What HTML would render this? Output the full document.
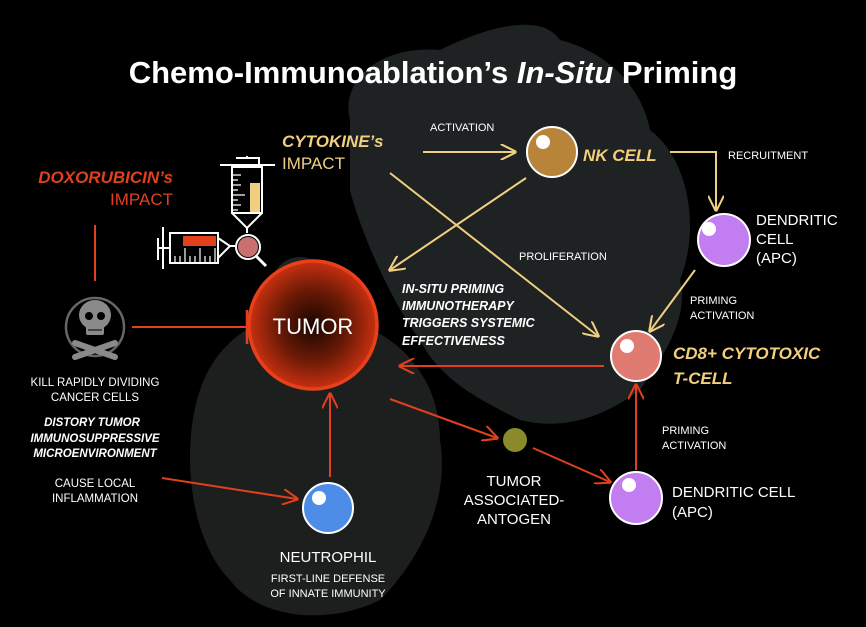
<!DOCTYPE html>
<html><head><meta charset="utf-8"><style>
html,body{margin:0;padding:0;background:#000;}
body{width:866px;height:622px;overflow:hidden;}
svg text{font-family:"Liberation Sans",sans-serif;}
</style></head><body>
<svg width="866" height="622" viewBox="0 0 866 622" xmlns="http://www.w3.org/2000/svg">
<defs>
<radialGradient id="tg" cx="50%" cy="50%" r="50%">
<stop offset="0" stop-color="#1a0500"/><stop offset="0.55" stop-color="#6a1a06"/><stop offset="1" stop-color="#c83010"/>
</radialGradient>
<marker id="ag2" viewBox="0 0 10 10" refX="9" refY="5" markerWidth="16" markerHeight="16" markerUnits="userSpaceOnUse" orient="auto"><path d="M0,0 L10,5 L0,10" fill="none" stroke="#f0cf80" stroke-width="1.3"/></marker>
<marker id="ar" viewBox="0 0 10 10" refX="9" refY="5" markerWidth="16" markerHeight="16" markerUnits="userSpaceOnUse" orient="auto"><path d="M0,0 L10,5 L0,10" fill="none" stroke="#e0401c" stroke-width="1.3"/></marker>
</defs>
<!-- background blobs -->
<path d="M350,120 C340,80 380,45 440,50 C480,30 540,10 560,40 C600,50 640,80 650,130 C690,160 700,230 680,280 C690,320 660,360 640,390 C600,420 560,430 520,420 C480,400 440,380 420,340 C390,300 360,230 350,190 Z" fill="#1f2222"/>
<path d="M200,390 C220,330 280,300 340,320 C400,330 440,380 440,440 C450,500 420,560 380,600 C330,625 260,620 230,580 C190,540 180,450 200,390 Z" fill="#1d1f1f"/>
<circle cx="300" cy="285" r="28" fill="#1f2222"/>
<!-- title -->
<text x="433" y="83" text-anchor="middle" fill="#fff" font-size="31" font-weight="bold">Chemo-Immunoablation’s <tspan font-style="italic">In-Situ</tspan> Priming</text>
<!-- doxorubicin -->
<text x="173" y="183" text-anchor="end" fill="#e0401c" font-size="17" font-weight="bold" font-style="italic">DOXORUBICIN’s</text>
<text x="173" y="205" text-anchor="end" fill="#e0401c" font-size="17">IMPACT</text>
<line x1="95" y1="225" x2="95" y2="281" stroke="#e0401c" stroke-width="2"/>
<!-- skull -->
<circle cx="95" cy="327" r="29" fill="none" stroke="#666" stroke-width="2.5"/>
<g stroke="#8a8a8a" stroke-width="6" stroke-linecap="round"><line x1="75" y1="343" x2="115" y2="357"/><line x1="115" y1="343" x2="75" y2="357"/></g>
<ellipse cx="95" cy="315" rx="16" ry="15" fill="#8a8a8a"/><rect x="86" y="322" width="18" height="13" rx="2" fill="#8a8a8a"/>
<circle cx="89" cy="316" r="4" fill="#000"/><circle cx="101" cy="316" r="4" fill="#000"/>
<path d="M88,330 h14" stroke="#000" stroke-width="1"/>
<line x1="132" y1="327" x2="247" y2="327" stroke="#e0401c" stroke-width="2"/>
<line x1="247" y1="310" x2="247" y2="344" stroke="#e0401c" stroke-width="2.5"/>
<text x="95" y="386" text-anchor="middle" fill="#fff" font-size="11.5">KILL RAPIDLY DIVIDING</text>
<text x="95" y="401" text-anchor="middle" fill="#fff" font-size="11.5">CANCER CELLS</text>
<g fill="#fff" font-size="11.5" font-weight="bold" font-style="italic" text-anchor="middle">
<text x="92" y="426">DISTORY TUMOR</text>
<text x="95" y="442">IMMUNOSUPPRESSIVE</text>
<text x="95" y="457">MICROENVIRONMENT</text>
</g>
<text x="95" y="487" text-anchor="middle" fill="#fff" font-size="11.5">CAUSE LOCAL</text>
<text x="95" y="502" text-anchor="middle" fill="#fff" font-size="11.5">INFLAMMATION</text>
<!-- syringes -->
<g stroke="#fff" stroke-width="2" fill="none">
<path d="M220,165 h55 M236,158 h23 v7 M247,158 v-2"/>
<rect x="232" y="167" width="30" height="46"/>
<path d="M232,213 L247,228 L262,213 M247,228 v5"/>
<rect x="170" y="233" width="48" height="30"/>
<path d="M158,238 v22 M163,227 v42 M158,248 h12 M218,238 L230,246 L218,258 M230,246 h5"/>
<circle cx="248" cy="247" r="12"/><line x1="256" y1="256" x2="266" y2="266" stroke-width="3"/>
</g>
<rect x="250" y="183" width="10" height="29" fill="#f0cf80"/>
<rect x="183" y="236" width="33" height="10" fill="#e0401c"/>
<g stroke="#fff" stroke-width="1.2"><path d="M233,175h8M233,180h5M233,185h8M233,190h5M233,195h12M233,200h5M233,205h8M233,210h5"/>
<path d="M175,262v-6M180,262v-6M185,262v-14M190,262v-6M195,262v-6M200,262v-14M205,262v-6M210,262v-6M215,262v-14"/></g>
<circle cx="248" cy="247" r="10" fill="#c97070"/>
<!-- cytokine -->
<text x="282" y="147" fill="#f0cf80" font-size="17" font-weight="bold" font-style="italic">CYTOKINE’s</text>
<text x="282" y="169" fill="#f0cf80" font-size="17">IMPACT</text>
<text x="430" y="131" fill="#fff" font-size="11">ACTIVATION</text>
<line x1="423" y1="152" x2="515" y2="152" stroke="#f0cf80" stroke-width="2" marker-end="url(#ag2)"/>
<!-- NK -->
<circle cx="552" cy="152" r="25" fill="#b8843a" stroke="#fff" stroke-width="2"/>
<circle cx="543" cy="142" r="7" fill="#fff"/>
<text x="583" y="161" fill="#f2cf7a" font-size="17" font-weight="bold" font-style="italic">NK CELL</text>
<polyline points="670,152 716,152 716,210" fill="none" stroke="#f0cf80" stroke-width="2" marker-end="url(#ag2)"/>
<text x="728" y="159" fill="#fff" font-size="11">RECRUITMENT</text>
<!-- dendritic top -->
<circle cx="724" cy="240" r="26" fill="#c27df0" stroke="#fff" stroke-width="2"/>
<circle cx="709" cy="229" r="7" fill="#fff"/>
<text x="756" y="225" fill="#fff" font-size="15">DENDRITIC</text>
<text x="756" y="244" fill="#fff" font-size="15">CELL</text>
<text x="756" y="263" fill="#fff" font-size="15">(APC)</text>
<line x1="695" y1="270" x2="650" y2="331" stroke="#f0cf80" stroke-width="2" marker-end="url(#ag2)"/>
<text x="690" y="304" fill="#fff" font-size="11">PRIMING</text>
<text x="690" y="319" fill="#fff" font-size="11">ACTIVATION</text>
<!-- crossing arrows -->
<line x1="390" y1="173" x2="598" y2="336" stroke="#f0cf80" stroke-width="2" marker-end="url(#ag2)"/>
<line x1="526" y1="178" x2="390" y2="270" stroke="#f0cf80" stroke-width="2" marker-end="url(#ag2)"/>
<text x="519" y="260" fill="#fff" font-size="11">PROLIFERATION</text>
<!-- tumor -->
<circle cx="313" cy="325" r="64" fill="url(#tg)" stroke="#e8401a" stroke-width="3.5"/>
<text x="313" y="334" text-anchor="middle" fill="#fff" font-size="22">TUMOR</text>
<g fill="#fff" font-size="12.5" font-weight="bold" font-style="italic">
<text x="402" y="293">IN-SITU PRIMING</text><text x="402" y="310">IMMUNOTHERAPY</text>
<text x="402" y="327">TRIGGERS SYSTEMIC</text><text x="402" y="345">EFFECTIVENESS</text></g>
<!-- CD8 -->
<line x1="604" y1="366" x2="400" y2="366" stroke="#e0401c" stroke-width="2" marker-end="url(#ar)"/>
<circle cx="636" cy="356" r="25" fill="#e07b72" stroke="#fff" stroke-width="2"/>
<circle cx="627" cy="346" r="7" fill="#fff"/>
<text x="673" y="359" fill="#f2cf7a" font-size="17" font-weight="bold" font-style="italic">CD8+ CYTOTOXIC</text>
<text x="673" y="384" fill="#f2cf7a" font-size="17" font-weight="bold" font-style="italic">T-CELL</text>
<!-- neutrophil -->
<line x1="330" y1="477" x2="330" y2="394" stroke="#e0401c" stroke-width="2" marker-end="url(#ar)"/>
<line x1="162" y1="478" x2="297" y2="499" stroke="#e0401c" stroke-width="2" marker-end="url(#ar)"/>
<circle cx="328" cy="508" r="25" fill="#4d8de8" stroke="#fff" stroke-width="2"/>
<circle cx="319" cy="498" r="7" fill="#fff"/>
<text x="328" y="562" text-anchor="middle" fill="#fff" font-size="15">NEUTROPHIL</text>
<text x="328" y="582" text-anchor="middle" fill="#fff" font-size="11">FIRST-LINE DEFENSE</text>
<text x="328" y="597" text-anchor="middle" fill="#fff" font-size="11">OF INNATE IMMUNITY</text>
<!-- TAA -->
<line x1="390" y1="399" x2="497" y2="438" stroke="#e0401c" stroke-width="2" marker-end="url(#ar)"/>
<circle cx="515" cy="440" r="12" fill="#8a8a2a"/>
<text x="514" y="486" text-anchor="middle" fill="#fff" font-size="15">TUMOR</text>
<text x="514" y="505" text-anchor="middle" fill="#fff" font-size="15">ASSOCIATED-</text>
<text x="514" y="524" text-anchor="middle" fill="#fff" font-size="15">ANTOGEN</text>
<line x1="533" y1="448" x2="610" y2="482" stroke="#e0401c" stroke-width="2" marker-end="url(#ar)"/>
<!-- dendritic bottom -->
<line x1="636" y1="470" x2="636" y2="385" stroke="#e0401c" stroke-width="2" marker-end="url(#ar)"/>
<text x="662" y="434" fill="#fff" font-size="11">PRIMING</text>
<text x="662" y="449" fill="#fff" font-size="11">ACTIVATION</text>
<circle cx="636" cy="498" r="26" fill="#c27df0" stroke="#fff" stroke-width="2"/>
<circle cx="629" cy="485" r="7" fill="#fff"/>
<text x="672" y="497" fill="#fff" font-size="15">DENDRITIC CELL</text>
<text x="672" y="517" fill="#fff" font-size="15">(APC)</text>
</svg>
</body></html>
